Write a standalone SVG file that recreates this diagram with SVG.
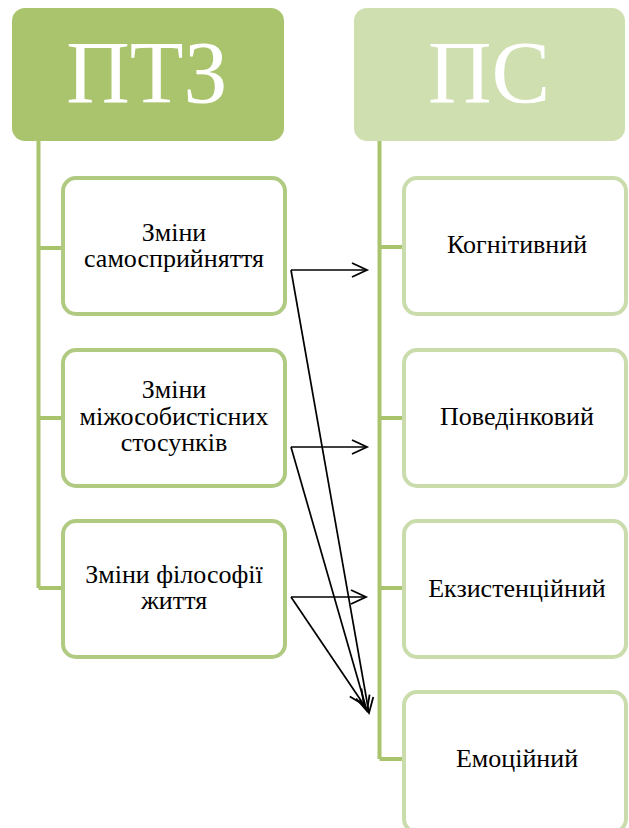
<svg xmlns="http://www.w3.org/2000/svg" width="629" height="828" viewBox="0 0 629 828">
<style>
.hdr1{fill:#a9c46c}
.hdr2{fill:#cfdfb0}
.htxt{font-family:"Liberation Serif","Times New Roman",serif;font-size:88px;fill:#ffffff;text-anchor:middle}
.trunk{stroke:#a9c46c;stroke-width:4;fill:none}
.boxL{fill:#ffffff;stroke:#b1ca82;stroke-width:4}
.boxR{fill:#ffffff;stroke:#cadcab;stroke-width:4}
.t{font-family:"Liberation Serif","Times New Roman",serif;font-size:26px;fill:#000000;text-anchor:middle}
.c{stroke:#000000;stroke-width:1.7;fill:none}
</style>
<defs>
<marker id="ah" markerUnits="userSpaceOnUse" markerWidth="18" markerHeight="16" refX="15" refY="7" orient="auto" overflow="visible">
<path d="M0,0 L15,7 L0,14" fill="none" stroke="#000" stroke-width="1.8"/>
</marker>
</defs>
<rect width="629" height="828" fill="#ffffff"/>
<g id="trunks">
<path class="trunk" d="M38.5,141 V588 M38.5,248 H62 M38.5,418 H62 M38.5,588 H62"/>
<path class="trunk" d="M379.5,141 V759 M379.5,247 H403 M379.5,418 H403 M379.5,588 H403 M379.5,759 H403"/>
</g>
<g id="ptz"><rect class="hdr1" x="12" y="8" width="272" height="133" rx="13"/><text class="htxt" x="147" y="102">ПТЗ</text></g>
<g id="ps"><rect class="hdr2" x="354" y="8" width="271" height="133" rx="13"/><text class="htxt" x="489" y="102">ПС</text></g>
<g id="l1"><rect class="boxL" x="63" y="178" width="222" height="136" rx="13"/><text class="t" x="174" y="241">Зміни<tspan x="174" dy="26">самосприйняття</tspan></text></g>
<g id="l2"><rect class="boxL" x="63" y="350" width="222" height="136" rx="13"/><text class="t" x="174" y="398">Зміни<tspan x="174" dy="27">міжособистісних</tspan><tspan x="174" dy="26">стосунків</tspan></text></g>
<g id="l3"><rect class="boxL" x="63" y="521" width="222" height="136" rx="13"/><text class="t" x="174" y="583">Зміни філософії<tspan x="174" dy="26">життя</tspan></text></g>
<g id="r1"><rect class="boxR" x="404" y="178" width="222" height="136" rx="13"/><text class="t" x="517" y="253">Когнітивний</text></g>
<g id="r2"><rect class="boxR" x="404" y="350" width="222" height="136" rx="13"/><text class="t" x="517" y="425">Поведінковий</text></g>
<g id="r3"><rect class="boxR" x="404" y="521" width="222" height="136" rx="13"/><text class="t" x="517" y="597">Екзистенційний</text></g>
<g id="r4"><rect class="boxR" x="404" y="692" width="222" height="140" rx="13"/><text class="t" x="517" y="767">Емоційний</text></g>
<g id="connectors">
<line class="c" x1="291" y1="270" x2="367" y2="270" marker-end="url(#ah)"/>
<line class="c" x1="291" y1="447" x2="367" y2="447" marker-end="url(#ah)"/>
<line class="c" x1="291" y1="597" x2="366" y2="597" marker-end="url(#ah)"/>
<line class="c" x1="291" y1="270" x2="369" y2="713" marker-end="url(#ah)"/>
<line class="c" x1="291" y1="447" x2="367" y2="711" marker-end="url(#ah)"/>
<line class="c" x1="291" y1="597" x2="364" y2="705" marker-end="url(#ah)"/>
</g>
</svg>
